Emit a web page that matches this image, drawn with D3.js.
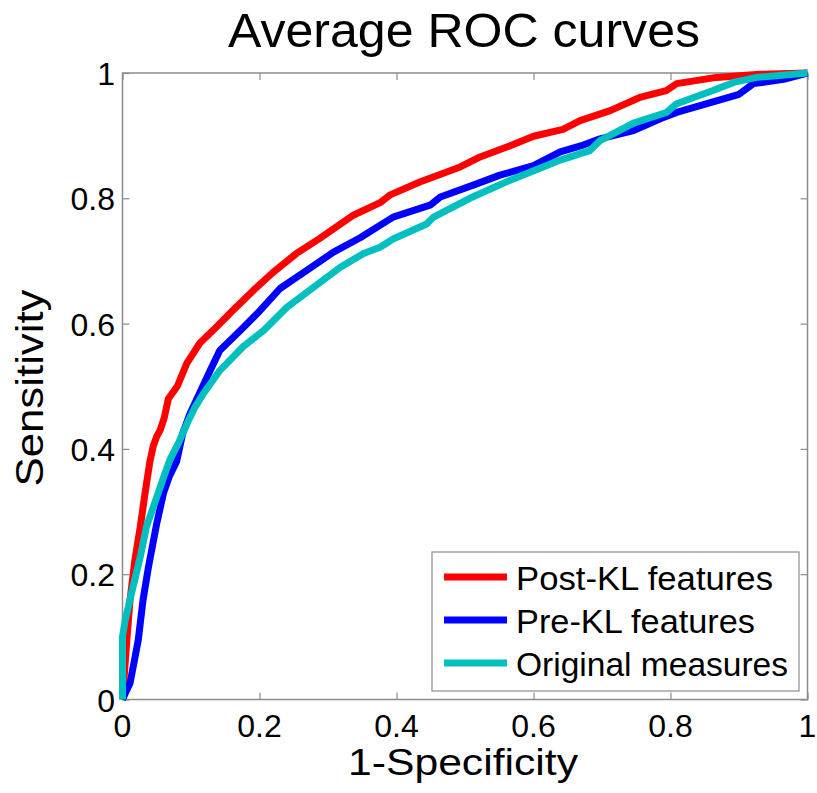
<!DOCTYPE html>
<html>
<head>
<meta charset="utf-8">
<script src="https://cdn.jsdelivr.net/npm/d3@7"></script>
<style>
html,body{margin:0;padding:0;background:#fff;}
svg{display:block;font-family:"Liberation Sans",Arial,Helvetica,sans-serif;}
</style>
</head>
<body>
<svg id="chart" width="817" height="793"></svg>
<script>
const title = "Average ROC curves";
const xLabel = "1-Specificity";
const yLabel = "Sensitivity";
const tickValues = [0, 0.2, 0.4, 0.6, 0.8, 1];
const tickLabels = ["0", "0.2", "0.4", "0.6", "0.8", "1"];
const seriesNames = ["Post-KL features", "Pre-KL features", "Original measures"];
const seriesColors = ["#ff0000", "#0000ff", "#00bfbf"];

const postKL = [[0,0],[0.001,0.015],[0.006,0.09],[0.011,0.159],[0.018,0.222],[0.026,0.276],[0.033,0.33],[0.04,0.38],[0.045,0.405],[0.05,0.42],[0.055,0.43],[0.061,0.45],[0.067,0.48],[0.08,0.5],[0.094,0.537],[0.113,0.569],[0.1375,0.595],[0.161,0.621],[0.191,0.653],[0.22,0.682],[0.254,0.712],[0.288,0.736],[0.337,0.773],[0.376,0.793],[0.39,0.805],[0.434,0.826],[0.493,0.85],[0.522,0.866],[0.566,0.884],[0.6,0.899],[0.643,0.91],[0.668,0.924],[0.712,0.94],[0.755,0.961],[0.794,0.972],[0.809,0.983],[0.867,0.993],[0.93,0.998],[1,1]];
const preKL = [[0,0],[0.004,0.01],[0.011,0.026],[0.017,0.06],[0.023,0.095],[0.03,0.159],[0.038,0.212],[0.05,0.281],[0.06,0.33],[0.068,0.355],[0.079,0.38],[0.088,0.425],[0.0985,0.456],[0.113,0.49],[0.128,0.525],[0.142,0.557],[0.172,0.589],[0.201,0.621],[0.23,0.656],[0.269,0.685],[0.308,0.714],[0.347,0.737],[0.395,0.77],[0.449,0.789],[0.464,0.802],[0.517,0.823],[0.551,0.837],[0.6,0.852],[0.639,0.874],[0.67,0.884],[0.697,0.895],[0.746,0.908],[0.785,0.927],[0.809,0.937],[0.9,0.966],[0.921,0.983],[0.965,0.99],[1,1]];
const original = [[0,0],[0,0.1],[0.004,0.127],[0.013,0.169],[0.026,0.228],[0.035,0.276],[0.05,0.323],[0.062,0.361],[0.069,0.382],[0.082,0.41],[0.094,0.44],[0.105,0.465],[0.118,0.488],[0.142,0.525],[0.176,0.563],[0.206,0.589],[0.24,0.626],[0.279,0.658],[0.318,0.69],[0.352,0.712],[0.376,0.722],[0.395,0.735],[0.444,0.759],[0.454,0.77],[0.507,0.8],[0.566,0.829],[0.614,0.85],[0.639,0.861],[0.682,0.876],[0.697,0.892],[0.746,0.92],[0.794,0.937],[0.809,0.951],[0.862,0.972],[0.892,0.985],[0.926,0.993],[1,1]];
const seriesData = [postKL, preKL, original];

const svg = d3.select("#chart");
const L = 122.5, R = 807.5, T = 73, B = 699.5;
const x = d3.scaleLinear().domain([0,1]).range([L,R]);
const y = d3.scaleLinear().domain([0,1]).range([B,T]);
const axisColor = "#8c8c8c";
const tickLen = 7;

// frame
svg.append("rect").attr("x",L).attr("y",T).attr("width",R-L).attr("height",B-T)
  .attr("fill","none").attr("stroke",axisColor).attr("stroke-width",1.5);

function styleAxis(g){
  g.select(".domain").remove();
  g.selectAll(".tick line").attr("stroke",axisColor).attr("stroke-width",1.2);
  g.selectAll(".tick text").remove();
}
svg.append("g").attr("transform",`translate(0,${B})`)
  .call(d3.axisBottom(x).tickValues(tickValues).tickSize(-tickLen)).call(styleAxis);
svg.append("g").attr("transform",`translate(0,${T})`)
  .call(d3.axisTop(x).tickValues(tickValues).tickSize(-tickLen)).call(styleAxis);
svg.append("g").attr("transform",`translate(${L},0)`)
  .call(d3.axisLeft(y).tickValues(tickValues).tickSize(-tickLen)).call(styleAxis);
svg.append("g").attr("transform",`translate(${R},0)`)
  .call(d3.axisRight(y).tickValues(tickValues).tickSize(-tickLen)).call(styleAxis);

// tick labels
svg.append("g").selectAll("text").data(tickValues).join("text")
  .attr("x",d=>x(d)).attr("y",737).attr("text-anchor","middle")
  .attr("font-size",32).attr("fill","#000").text((d,i)=>tickLabels[i]);
svg.append("g").selectAll("text").data(tickValues).join("text")
  .attr("x",115).attr("y",d=>y(d)+12).attr("text-anchor","end")
  .attr("font-size",32).attr("fill","#000").text((d,i)=>tickLabels[i]);

// curves
const line = d3.line().x(d=>x(d[0])).y(d=>y(d[1]));
svg.append("g").selectAll("path").data(seriesData).join("path")
  .attr("d",line).attr("fill","none")
  .attr("stroke",(d,i)=>seriesColors[i]).attr("stroke-width",7)
  .attr("stroke-linejoin","round").attr("stroke-linecap","butt");

// legend
const lg = svg.append("g");
lg.append("rect").attr("x",432).attr("y",552).attr("width",367).attr("height",139)
  .attr("fill","#fff").attr("stroke",axisColor).attr("stroke-width",1.2);
const legY = [577, 620, 663];
const legLen = [257, 239, 272];
seriesNames.forEach((n,i)=>{
  lg.append("line").attr("x1",444).attr("x2",507).attr("y1",legY[i]).attr("y2",legY[i])
    .attr("stroke",seriesColors[i]).attr("stroke-width",7);
  lg.append("text").attr("x",516).attr("y",legY[i]+13).attr("font-size",33)
    .attr("textLength",legLen[i]).attr("lengthAdjust","spacingAndGlyphs")
    .attr("fill","#000").text(n);
});

// titles
svg.append("text").attr("x",464).attr("y",47).attr("text-anchor","middle")
  .attr("font-size",48).attr("textLength",472).attr("lengthAdjust","spacingAndGlyphs").text(title);
svg.append("text").attr("x",463).attr("y",775).attr("text-anchor","middle")
  .attr("font-size",37).attr("textLength",230).attr("lengthAdjust","spacingAndGlyphs").text(xLabel);
svg.append("text").attr("transform","translate(43,388) rotate(-90)").attr("text-anchor","middle")
  .attr("font-size",38).attr("textLength",197).attr("lengthAdjust","spacingAndGlyphs").text(yLabel);
</script>
</body>
</html>
